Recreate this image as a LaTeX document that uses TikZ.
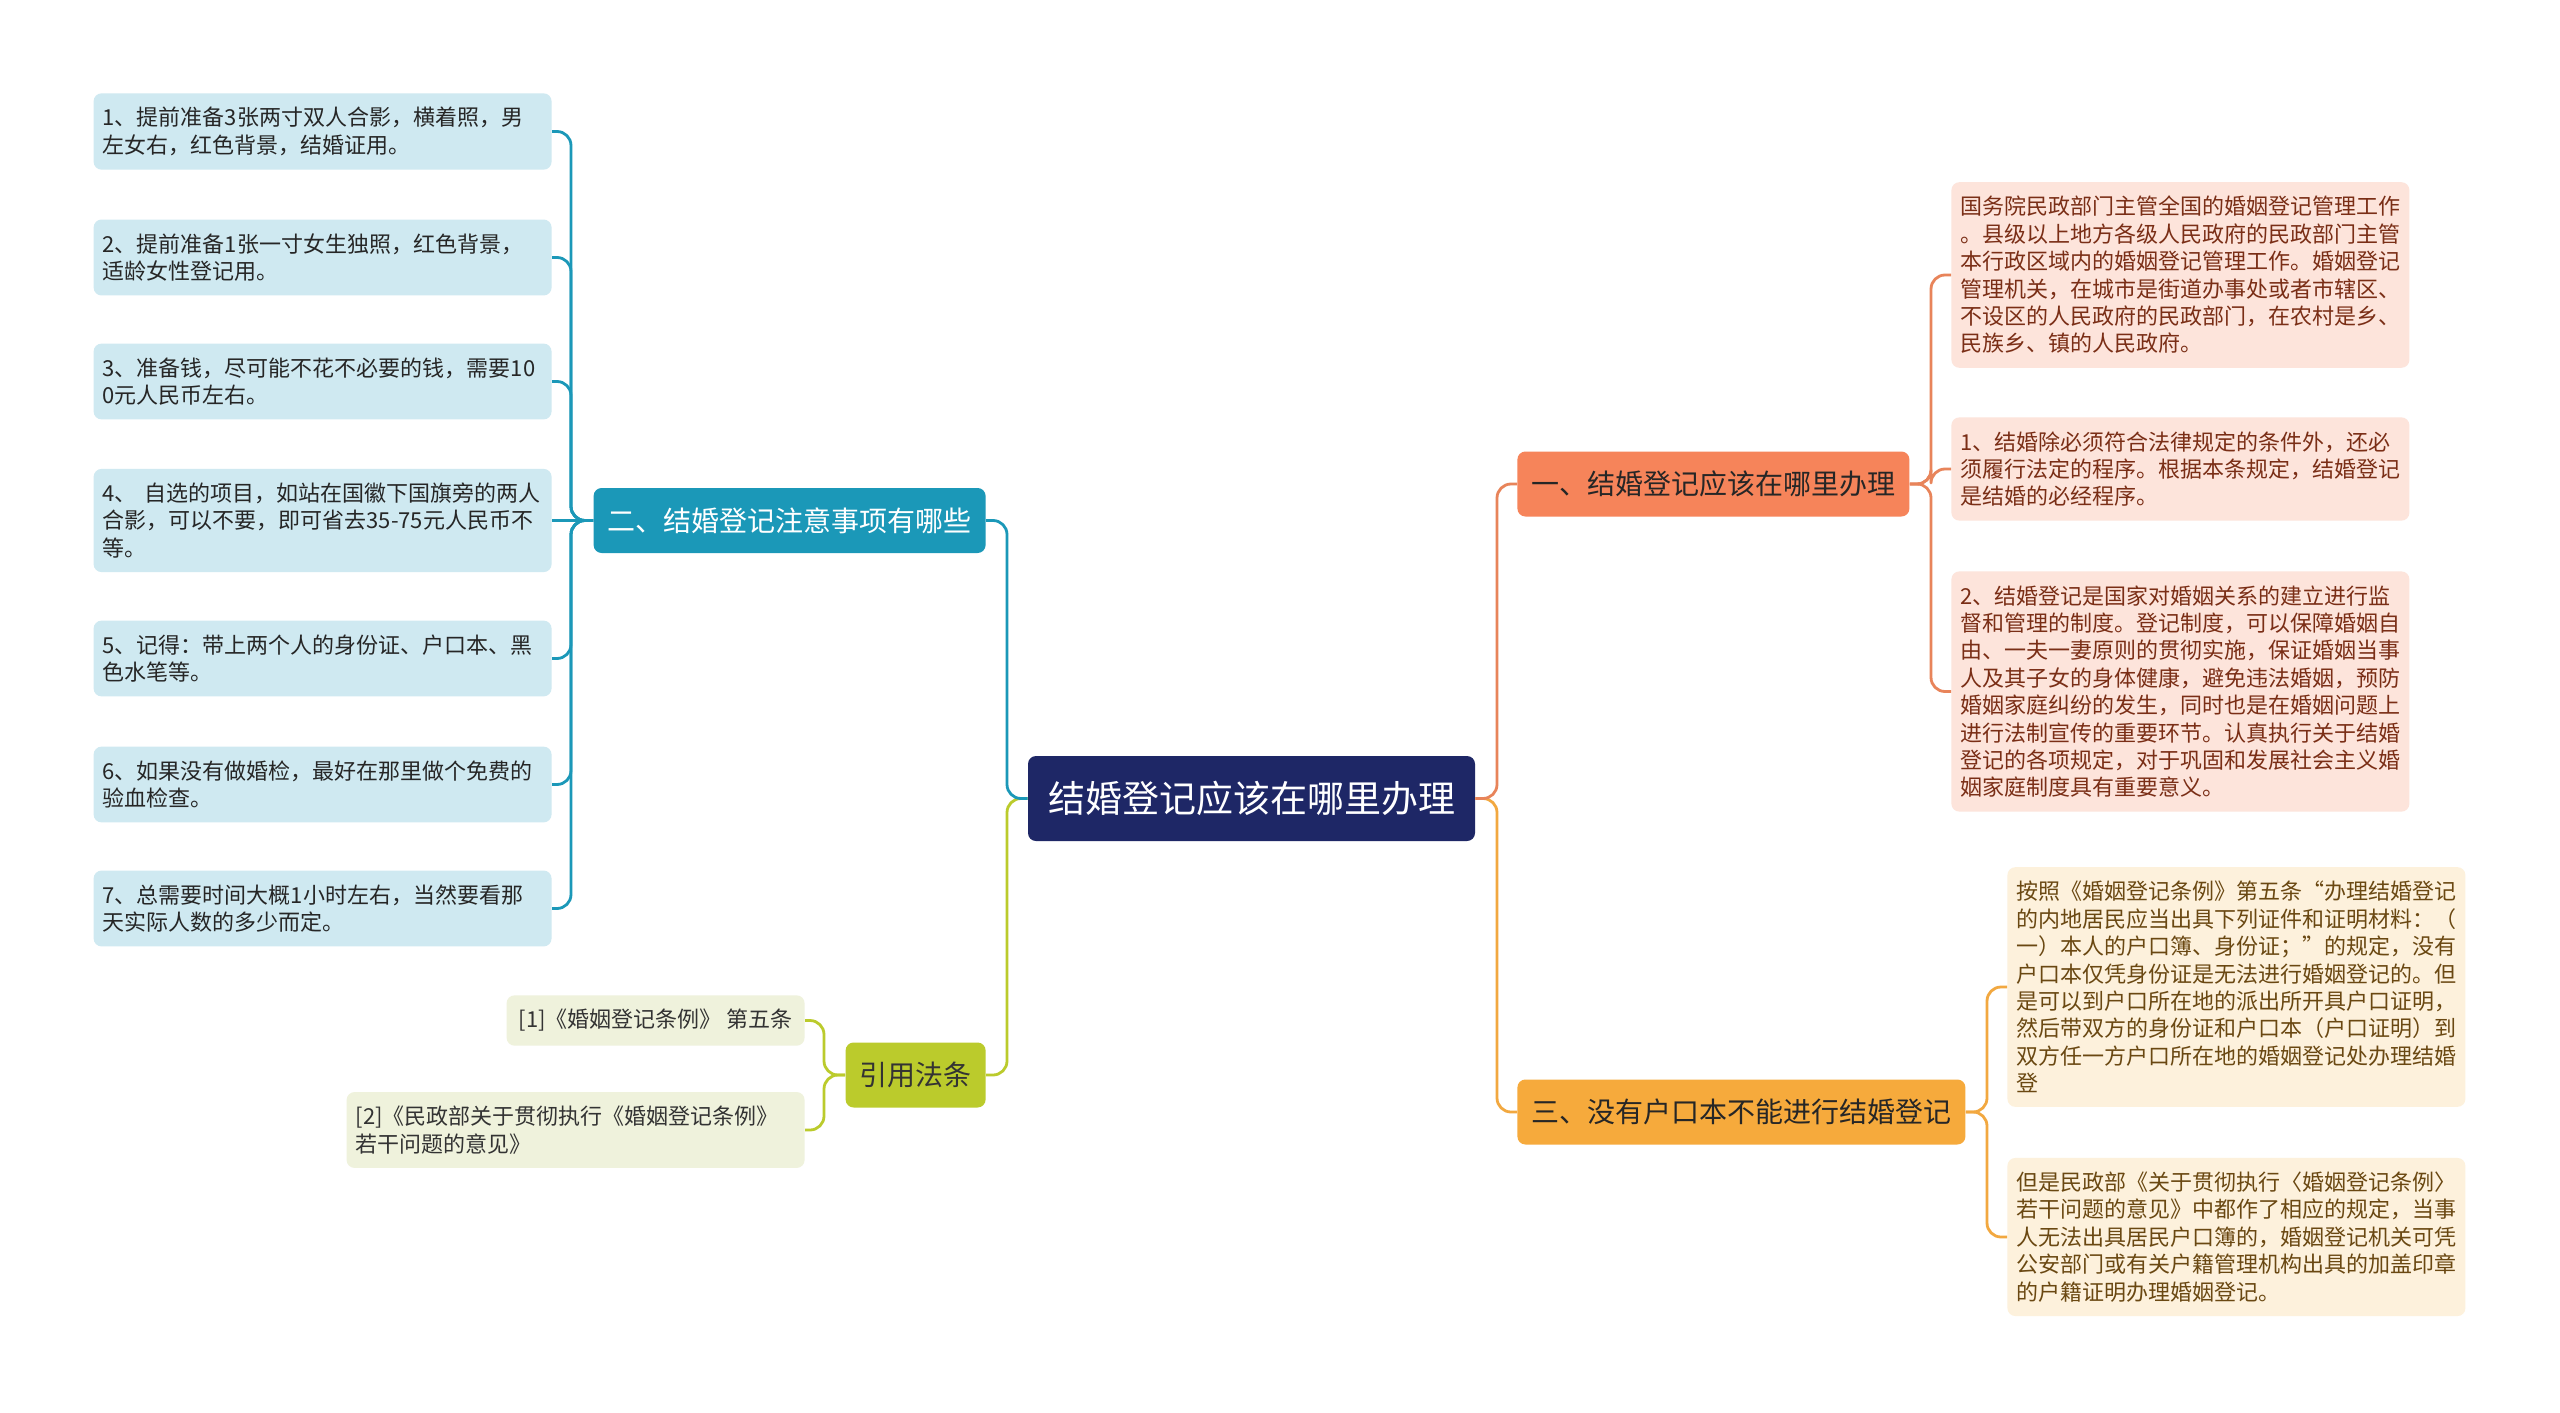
\documentclass[tikz,border=0pt]{standalone}
\usepackage{fontspec}
\setmainfont{Noto Sans CJK SC}
\usepackage{xcolor}
\usetikzlibrary{positioning}

\definecolor{navy}{HTML}{1E2766}
\definecolor{teal}{HTML}{1B98B8}
\definecolor{tealleaf}{HTML}{CFE9F1}
\definecolor{lime}{HTML}{BBCB2C}
\definecolor{limeleaf}{HTML}{EFF2DC}
\definecolor{coral}{HTML}{F6845A}
\definecolor{coralline}{HTML}{E8845A}
\definecolor{coralleaf}{HTML}{FDE4DB}
\definecolor{coraltext}{HTML}{7A2E16}
\definecolor{amber}{HTML}{F6AA3C}
\definecolor{amberline}{HTML}{F2A840}
\definecolor{amberleaf}{HTML}{FDF1DC}
\definecolor{ambertext}{HTML}{6A4812}

\begin{document}
\begin{tikzpicture}[x=0.5pt,y=-0.5pt,line join=round,
  rootbox/.style={rounded corners=4pt,fill=navy,text=white,font=\fontsize{18.5}{22}\selectfont,
    minimum height=42.5pt,inner xsep=10pt},
  topicbox/.style={rounded corners=4pt,font=\fontsize{14}{17}\selectfont,minimum height=32.5pt,inner xsep=7pt},
  leafbox/.style={rounded corners=4pt,font=\fontsize{11}{13.7}\selectfont,text width=220pt,align=left,
    inner xsep=4.5pt,inner ysep=7pt},
  link/.style={line width=1.4pt,rounded corners=7pt}]
  \useasboundingbox[fill=white] (0,0) rectangle (2560,1413);

  % root
  \node[rootbox] (root) at (1251.5,798.5) {结婚登记应该在哪里办理};

  % main topics
  \node[topicbox,fill=teal,text=white,anchor=east] (notes) at (986,520.5) {二、结婚登记注意事项有哪些};
  \node[topicbox,fill=lime,text=black!80,anchor=east] (cite) at (986,1075) {引用法条};
  \node[topicbox,fill=coral,text=black!85,anchor=west] (where) at (1517,484) {一、结婚登记应该在哪里办理};
  \node[topicbox,fill=amber,text=black!85,anchor=west] (nobook) at (1517,1112) {三、没有户口本不能进行结婚登记};

  % left leaves
  \tikzset{tealnote/.style={leafbox,fill=tealleaf,text=black!85,anchor=east}}
  \node[tealnote] (n1) at (552,131.5) {1、提前准备3张两寸双人合影，横着照，男\\左女右，红色背景，结婚证用。};
  \node[tealnote] (n2) at (552,257.5) {2、提前准备1张一寸女生独照，红色背景，\\适龄女性登记用。};
  \node[tealnote] (n3) at (552,381.5) {3、准备钱，尽可能不花不必要的钱，需要10\\0元人民币左右。};
  \node[tealnote] (n4) at (552,520.5) {4、 自选的项目，如站在国徽下国旗旁的两人\\合影，可以不要，即可省去35-75元人民币不\\等。};
  \node[tealnote] (n5) at (552,658.5) {5、记得：带上两个人的身份证、户口本、黑\\色水笔等。};
  \node[tealnote] (n6) at (552,784.5) {6、如果没有做婚检，最好在那里做个免费的\\验血检查。};
  \node[tealnote] (n7) at (552,908.5) {7、总需要时间大概1小时左右，当然要看那\\天实际人数的多少而定。};

  % citations
  \node[leafbox,fill=limeleaf,text=black!80,text width=,inner xsep=6pt,anchor=east] (c1) at (805,1020.5)
    {[1]《婚姻登记条例》 第五条};
  \node[leafbox,fill=limeleaf,text=black!80,anchor=east] (c2) at (805,1130)
    {[2]《民政部关于贯彻执行《婚姻登记条例》\\若干问题的意见》};

  % right leaves, first topic
  \tikzset{coralnote/.style={leafbox,fill=coralleaf,text=coraltext,anchor=west}}
  \node[coralnote] (w1) at (1951,275) {国务院民政部门主管全国的婚姻登记管理工作\\。县级以上地方各级人民政府的民政部门主管\\本行政区域内的婚姻登记管理工作。婚姻登记\\管理机关，在城市是街道办事处或者市辖区、\\不设区的人民政府的民政部门，在农村是乡、\\民族乡、镇的人民政府。};
  \node[coralnote] (w2) at (1951,469) {1、结婚除必须符合法律规定的条件外，还必\\须履行法定的程序。根据本条规定，结婚登记\\是结婚的必经程序。};
  \node[coralnote] (w3) at (1951,691.5) {2、结婚登记是国家对婚姻关系的建立进行监\\督和管理的制度。登记制度，可以保障婚姻自\\由、一夫一妻原则的贯彻实施，保证婚姻当事\\人及其子女的身体健康，避免违法婚姻，预防\\婚姻家庭纠纷的发生，同时也是在婚姻问题上\\进行法制宣传的重要环节。认真执行关于结婚\\登记的各项规定，对于巩固和发展社会主义婚\\姻家庭制度具有重要意义。};

  % right leaves, third topic
  \tikzset{ambernote/.style={leafbox,fill=amberleaf,text=ambertext,anchor=west}}
  \node[ambernote] (b1) at (2007,987) {按照《婚姻登记条例》第五条“办理结婚登记\\的内地居民应当出具下列证件和证明材料：（\\一）本人的户口簿、身份证；”的规定，没有\\户口本仅凭身份证是无法进行婚姻登记的。但\\是可以到户口所在地的派出所开具户口证明，\\然后带双方的身份证和户口本（户口证明）到\\双方任一方户口所在地的婚姻登记处办理结婚\\登};
  \node[ambernote] (b2) at (2007,1237) {但是民政部《关于贯彻执行〈婚姻登记条例〉\\若干问题的意见》中都作了相应的规定，当事\\人无法出具居民户口簿的，婚姻登记机关可凭\\公安部门或有关户籍管理机构出具的加盖印章\\的户籍证明办理婚姻登记。};

  % root links
  \draw[link,amberline] (root.east) -- (1497,798.5) |- (nobook.west);
  \draw[link,coralline] (root.east) -- (1497,798.5) |- (where.west);
  \draw[link,lime] (root.west) -- (1007,798.5) |- (cite.east);
  \draw[link,teal] (root.west) -- (1007,798.5) |- (notes.east);

  % topic links
  \foreach \leaf in {n1,n2,n3,n5,n6,n7}
    \draw[link,teal] (notes.west) -- (571,520.5) |- (\leaf.east);
  \draw[link,teal] (notes.west) -- (n4.east);
  \foreach \leaf in {c1,c2}
    \draw[link,lime] (cite.west) -- (824,1075) |- (\leaf.east);
  \foreach \leaf in {w1,w2,w3}
    \draw[link,coralline] (where.east) -- (1931,484) |- (\leaf.west);
  \foreach \leaf in {b1,b2}
    \draw[link,amberline] (nobook.east) -- (1987,1112) |- (\leaf.west);
\end{tikzpicture}
\end{document}
